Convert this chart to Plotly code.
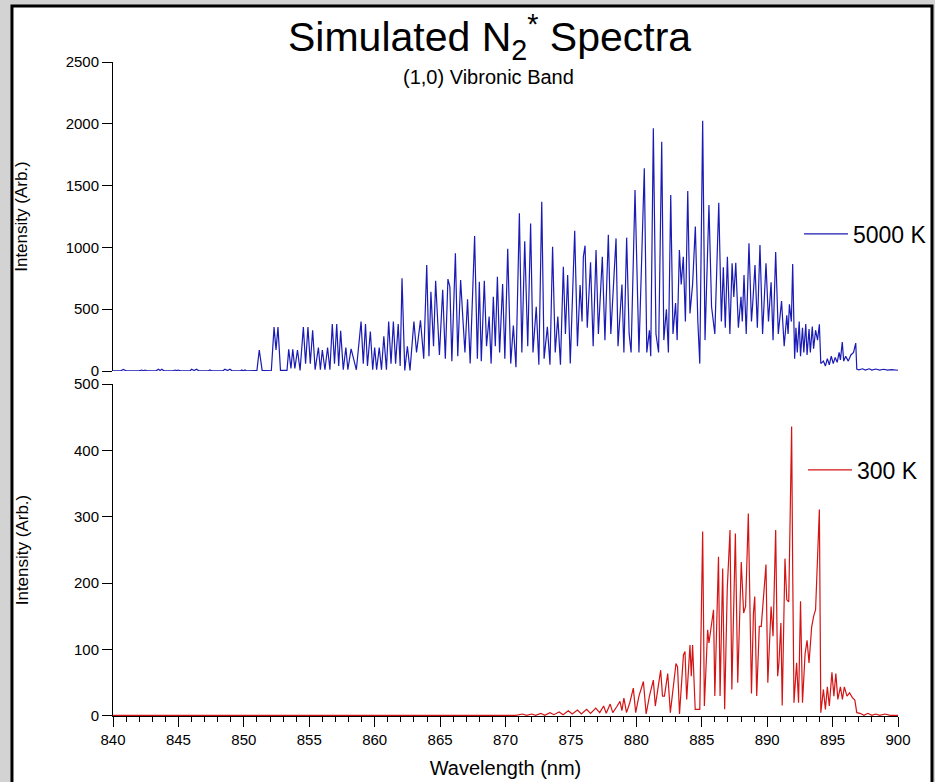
import plotly.graph_objects as go

# ---- data ----
wl_5000 = [840.0, 840.6, 840.79, 841.0, 842.0, 842.19, 842.32, 842.45, 842.6, 843.3, 843.47, 843.6, 843.73, 843.9,
           844.6, 844.74, 844.87, 845.0, 845.15, 845.9, 846.01, 846.2, 846.39, 846.55, 847.3, 847.41, 847.55,
           848.4, 848.56, 848.75, 848.94, 849.1, 849.75, 849.84, 849.95, 850.09, 850.2, 851.0, 851.18, 851.4,
           852.1, 852.31, 852.46, 852.61, 852.8, 853.3, 853.43, 853.6, 853.74, 853.9, 854.1, 854.3, 854.55,
           854.72, 854.9, 855.08, 855.26, 855.45, 855.7, 855.85, 856.0, 856.2, 856.4, 856.58, 856.76, 856.93,
           857.1, 857.25, 857.4, 857.6, 857.8, 857.95, 858.2, 858.6, 858.96, 859.13, 859.3, 859.45, 859.67,
           859.85, 860.0, 860.15, 860.35, 860.52, 860.7, 860.9, 861.07, 861.25, 861.43, 861.6, 861.8, 861.95,
           862.09, 862.3, 862.5, 862.7, 863.0, 863.2, 863.5, 863.75, 863.98, 864.15, 864.3, 864.5, 864.66,
           864.82, 864.95, 865.2, 865.4, 865.6, 865.75, 865.9, 866.17, 866.35, 866.57, 866.75, 866.9, 867.1,
           867.3, 867.64, 867.85, 868.0, 868.15, 868.38, 868.55, 868.75, 868.9, 869.07, 869.22, 869.38, 869.55,
           869.78, 869.95, 870.17, 870.4, 870.6, 870.8, 871.06, 871.25, 871.47, 871.7, 871.92, 872.1, 872.35,
           872.55, 872.77, 872.95, 873.2, 873.4, 873.6, 873.8, 874.0, 874.2, 874.42, 874.58, 874.75, 874.95,
           875.29, 875.5, 875.7, 875.85, 875.95, 876.08, 876.25, 876.5, 876.7, 876.92, 877.1, 877.4, 877.6,
           877.86, 878.05, 878.2, 878.45, 878.6, 878.9, 879.05, 879.26, 879.45, 879.6, 879.9, 880.05, 880.2,
           880.61, 880.8, 881.0, 881.1, 881.3, 881.5, 881.7, 881.94, 882.1, 882.3, 882.45, 882.63, 882.8,
           883.0, 883.12, 883.29, 883.43, 883.59, 883.75, 883.93, 884.1, 884.3, 884.51, 884.7, 884.85, 885.07,
           885.25, 885.55, 885.75, 886.0, 886.3, 886.5, 886.65, 886.8, 886.96, 887.15, 887.32, 887.45, 887.6,
           887.8, 888.0, 888.1, 888.23, 888.4, 888.61, 888.8, 888.9, 889.07, 889.25, 889.45, 889.65, 889.91,
           890.1, 890.3, 890.45, 890.65, 890.85, 891.1, 891.3, 891.5, 891.6, 891.7, 891.85, 891.95, 892.1,
           892.2, 892.3, 892.45, 892.55, 892.7, 892.8, 892.95, 893.05, 893.2, 893.3, 893.45, 893.55, 893.7,
           893.85, 893.99, 894.1, 894.3, 894.45, 894.6, 894.75, 894.9, 895.05, 895.2, 895.35, 895.5, 895.6,
           895.74, 895.85, 896.0, 896.2, 896.4, 896.6, 896.77, 896.85, 897.0, 897.3, 897.5, 897.8, 898.0,
           898.3, 898.6, 898.9, 899.2, 899.5, 900.0]
int_5000 = [2, 2, 12, 2, 2, 8, 2, 8, 2, 2, 14, 4, 14, 2,
            2, 8, 3, 8, 2, 2, 14, 4, 14, 2, 2, 8, 2,
            2, 14, 4, 14, 2, 2, 8, 2, 8, 2, 3, 170, 5,
            2, 355, 170, 355, 5, 5, 175, 20, 175, 20, 170, 5, 356,
            60, 356, 60, 330, 10, 190, 10, 170, 10, 190, 10, 380, 60,
            380, 40, 325, 10, 190, 10, 180, 10, 400, 60, 380, 40, 320,
            10, 190, 10, 190, 10, 280, 10, 400, 60, 400, 60, 380, 40,
            750, 5, 200, 5, 400, 150, 410, 100, 858, 120, 642, 200, 731,
            330, 130, 658, 100, 744, 680, 80, 952, 120, 736, 410, 150, 580,
            60, 1092, 100, 722, 80, 731, 200, 440, 60, 601, 200, 763, 150,
            703, 100, 990, 60, 367, 30, 1276, 150, 1049, 200, 1193, 150, 520,
            50, 1370, 100, 358, 50, 1006, 150, 440, 50, 844, 300, 777, 60,
            1135, 200, 696, 400, 925, 1014, 350, 880, 200, 979, 300, 925, 250,
            1103, 300, 600, 1073, 200, 700, 150, 1079, 300, 150, 1464, 722, 150,
            1640, 150, 330, 120, 1963, 300, 150, 1855, 250, 500, 150, 1424, 300,
            550, 250, 979, 700, 925, 400, 1456, 466, 700, 1168, 400, 60, 2025,
            250, 1343, 520, 300, 1362, 400, 840, 350, 925, 300, 871, 600, 876,
            350, 600, 400, 777, 300, 1033, 400, 550, 858, 350, 1019, 300, 871,
            400, 717, 250, 963, 300, 566, 200, 450, 300, 540, 400, 866, 100,
            350, 150, 400, 120, 350, 150, 380, 130, 340, 150, 360, 180, 330,
            250, 378, 60, 80, 40, 100, 50, 120, 60, 110, 70, 150, 90,
            234, 80, 120, 80, 130, 150, 226, 15, 10, 18, 8, 18, 8,
            16, 8, 14, 8, 12, 6]

wl_300 = [840.0, 870.0, 870.5, 870.8, 871.3, 871.6, 872.0, 872.3, 872.7, 873.0, 873.4, 873.7, 874.1, 874.4,
          874.8, 875.1, 875.5, 875.8, 876.2, 876.5, 876.9, 877.2, 877.5, 877.7, 878.0, 878.2, 878.5, 878.75,
          878.9, 879.05, 879.25, 879.5, 879.77, 879.95, 880.2, 880.54, 880.75, 881.0, 881.3, 881.45, 881.86,
          882.0, 882.15, 882.4, 882.6, 883.03, 883.15, 883.3, 883.6, 883.72, 883.85, 884.1, 884.2, 884.3,
          884.5, 884.85, 885.07, 885.2, 885.45, 885.55, 885.9, 886.0, 886.28, 886.4, 886.6, 886.75, 886.95,
          887.16, 887.3, 887.57, 887.75, 888.02, 888.2, 888.35, 888.56, 888.7, 888.8, 888.95, 889.05, 889.2,
          889.4, 889.55, 889.91, 890.05, 890.2, 890.3, 890.45, 890.65, 890.8, 890.9, 891.05, 891.15, 891.36,
          891.5, 891.65, 891.87, 891.95, 892.05, 892.25, 892.4, 892.55, 892.7, 892.9, 893.05, 893.2, 893.4,
          893.55, 893.7, 893.99, 894.1, 894.3, 894.45, 894.6, 894.75, 894.95, 895.1, 895.25, 895.4, 895.6,
          895.75, 895.9, 896.1, 896.3, 896.5, 896.7, 896.85, 897.1, 897.4, 897.7, 898.0, 898.3, 898.6, 899.0,
          899.4, 900.0]
int_300 = [1, 1, 2, 1, 3, 1, 3, 1, 4, 1, 5, 2, 6, 2,
           8, 3, 9, 3, 10, 4, 12, 5, 15, 4, 18, 5, 14, 22,
           8, 27, 5, 20, 42, 5, 30, 52, 3, 30, 54, 15, 69,
           30, 30, 64, 5, 79, 74, 3, 92, 97, 25, 107, 60, 107,
           10, 10, 278, 15, 130, 110, 160, 30, 240, 30, 222, 10, 192,
           280, 40, 275, 50, 232, 155, 165, 305, 150, 34, 155, 180, 30,
           135, 135, 228, 50, 130, 165, 120, 280, 60, 80, 140, 16, 237,
           175, 172, 436, 220, 20, 80, 20, 173, 20, 94, 114, 80, 134,
           150, 160, 311, 5, 40, 10, 44, 15, 66, 30, 64, 25, 44,
           25, 44, 30, 35, 28, 24, 5, 4, 1, 4, 1, 3, 1, 3,
           1, 1]

y_ticks_top = [0, 500, 1000, 1500, 2000, 2500]
y_ticks_bottom = [0, 100, 200, 300, 400, 500]

FONT = "Liberation Sans, Arial, sans-serif"
GRAY = "#d3d3d3"

fig = go.Figure()
fig.add_trace(go.Scatter(x=wl_5000, y=int_5000, mode="lines", name="5000 K",
                         line=dict(color="#1a1ab4", width=1.2), xaxis="x2", yaxis="y2",
                         legend="legend"))
fig.add_trace(go.Scatter(x=wl_300, y=int_300, mode="lines", name="300 K",
                         line=dict(color="#d41414", width=1.2), xaxis="x", yaxis="y",
                         legend="legend2"))

axis_common = dict(showline=True, linecolor="black", linewidth=1, ticks="outside",
                   ticklen=10, tickcolor="black", showgrid=False, zeroline=False,
                   tickfont=dict(size=15, color="black", family=FONT))

fig.update_layout(
    width=935, height=782, autosize=False,
    margin=dict(l=113, r=37, t=62, b=66, autoexpand=False),
    paper_bgcolor=GRAY, plot_bgcolor="white",
    font=dict(family=FONT, color="black"),
    showlegend=True,
    xaxis=dict(domain=[0, 1], anchor="y", range=[840, 900], tick0=840, dtick=5,
               minor=dict(dtick=1, ticks="outside", ticklen=5, tickcolor="black"),
               title=dict(text="Wavelength (nm)", font=dict(size=20), standoff=13),
               **axis_common),
    xaxis2=dict(domain=[0, 1], anchor="y2", range=[840, 900], matches="x", visible=False),
    yaxis=dict(domain=[0, 0.5076], anchor="x", range=[0, 500], tickvals=y_ticks_bottom,
               title=dict(text="Intensity (Arb.)", font=dict(size=17), standoff=41),
               **axis_common),
    yaxis2=dict(domain=[0.5275, 1], anchor="x2", range=[0, 2500], tickvals=y_ticks_top,
                title=dict(text="Intensity (Arb.)", font=dict(size=17), standoff=33),
                **axis_common),
    legend=dict(xref="container", yref="container", x=0.8545, y=0.7008,
                xanchor="left", yanchor="middle", itemwidth=44,
                font=dict(size=23), bgcolor="rgba(0,0,0,0)"),
    legend2=dict(xref="container", yref="container", x=0.8588, y=0.399,
                 xanchor="left", yanchor="middle", itemwidth=44,
                 font=dict(size=23), bgcolor="rgba(0,0,0,0)"),
    shapes=[dict(type="rect", xref="paper", yref="paper", x0=-0.1287, x1=1.0433,
                 y0=-0.13, y1=1.0856, line=dict(color="black", width=3),
                 fillcolor="white", layer="below")],
    annotations=[
        dict(text="Simulated N<sub>2</sub><sup>*</sup> Spectra", xref="paper", yref="paper",
             x=0.479, y=1.038, showarrow=False, font=dict(size=41), xanchor="center", yanchor="middle"),
        dict(text="(1,0) Vibronic Band", xref="paper", yref="paper",
             x=0.478, y=0.977, showarrow=False, font=dict(size=20), xanchor="center", yanchor="middle"),
    ],
)

fig.write_html(
    "out.html",
    config={"displayModeBar": False, "responsive": False},
    post_script=("document.documentElement.style.overflow='hidden';"
                 "document.body.style.margin='0px';"
                 "document.body.style.overflow='hidden';"
                 "document.body.style.backgroundColor='%s';" % GRAY),
)
